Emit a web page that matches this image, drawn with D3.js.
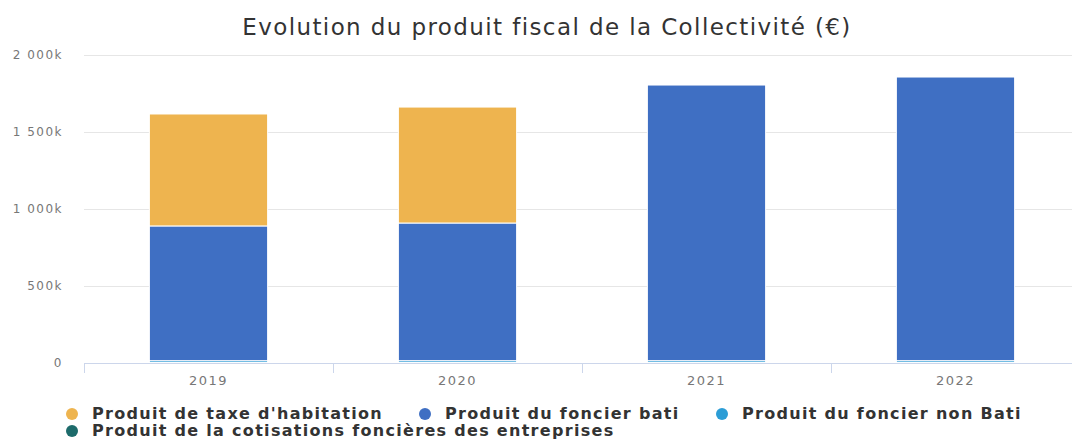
<!DOCTYPE html>
<html lang="fr">
<head>
  <meta charset="UTF-8">
  <title>Evolution du produit fiscal</title>
  <style>
    body { margin: 0; background: #fff; }
    #chart { display: block; }
    text { font-family: "DejaVu Sans", Verdana, sans-serif; }
  </style>
</head>
<body>
  <svg id="chart"></svg>

  <script src="https://d3js.org/d3.v7.min.js"></script>
  <script>
    // chart data (k€)
    const years = ["2019", "2020", "2021", "2022"];
    const seriesNames = [
      "Produit de taxe d'habitation",
      "Produit du foncier bati",
      "Produit du foncier non Bati",
      "Produit de la cotisations foncières des entreprises"
    ];
    const habitation = [727, 753, 0, 0];
    const foncierBati = [875, 894, 1790, 1842];
    const foncierNonBati = [12, 12, 12, 12];
    const cotisations = [3, 3, 3, 3];
    const yTicks = [0, 500, 1000, 1500, 2000];
    const colors = ["#eeb44f", "#3f6fc3", "#2c9dd6", "#1d6b6b"];

    const width = 1072;
    const height = 444;
    const margin = { top: 55, right: -8, bottom: 81, left: 84 };

    const svg = d3.select("#chart")
      .attr("width", width)
      .attr("height", height);

    // stacking: first series sits on top, like the original
    const rows = years.map((y, i) => ({
      year: y,
      s0: habitation[i],
      s1: foncierBati[i],
      s2: foncierNonBati[i],
      s3: cotisations[i]
    }));
    const stack = d3.stack().keys(["s3", "s2", "s1", "s0"]);
    const stacked = stack(rows);
    const colorOf = { s0: colors[0], s1: colors[1], s2: colors[2], s3: colors[3] };

    const x = d3.scaleBand()
      .domain(years)
      .range([margin.left, width - margin.right])
      .paddingInner(0.525)
      .paddingOuter(0.2625);

    const y = d3.scaleLinear()
      .domain([0, 2000])
      .range([height - margin.bottom, margin.top]);

    // title
    svg.append("text")
      .attr("x", 547)
      .attr("y", 35)
      .attr("text-anchor", "middle")
      .attr("fill", "#333")
      .style("font-size", "23px")
      .style("letter-spacing", "1.4px")
      .text("Evolution du produit fiscal de la Collectivité (€)");

    // grid lines
    svg.append("g")
      .selectAll("line")
      .data(yTicks.slice(1))
      .join("line")
      .attr("x1", margin.left)
      .attr("x2", width)
      .attr("y1", d => y(d) + 0.5)
      .attr("y2", d => y(d) + 0.5)
      .attr("stroke", "#e6e6e6");

    // y axis labels
    const fmt = d => d === 0 ? "0" : d3.format(",")(d).replace(",", " ") + "k";
    const yAxis = svg.append("g")
      .attr("transform", `translate(${margin.left - 18},0)`)
      .call(d3.axisLeft(y).tickValues(yTicks).tickFormat(fmt).tickSize(0));
    yAxis.select(".domain").remove();
    yAxis.selectAll("text")
      .attr("fill", "#777")
      .style("font-size", "12px")
      .style("letter-spacing", "1.5px");

    // bars
    svg.append("g")
      .selectAll("g")
      .data(stacked)
      .join("g")
      .attr("fill", d => colorOf[d.key])
      .selectAll("rect")
      .data(d => d.filter(v => v[1] - v[0] > 0))
      .join("rect")
      .attr("x", d => x(d.data.year))
      .attr("width", x.bandwidth())
      .attr("y", d => y(d[1]))
      .attr("height", d => y(d[0]) - y(d[1]))
      .attr("stroke", "#fff")
      .attr("stroke-width", 1);

    // x axis
    const xAxis = svg.append("g")
      .attr("transform", `translate(0,${height - margin.bottom})`);
    xAxis.append("line")
      .attr("x1", margin.left)
      .attr("x2", width)
      .attr("y1", 0.5)
      .attr("y2", 0.5)
      .attr("stroke", "#ccd6eb");
    const step = x.step();
    xAxis.selectAll(".tick-line")
      .data(d3.range(years.length + 1))
      .join("line")
      .attr("class", "tick-line")
      .attr("x1", i => margin.left + i * step + 0.5)
      .attr("x2", i => margin.left + i * step + 0.5)
      .attr("y1", 0)
      .attr("y2", 10)
      .attr("stroke", "#ccd6eb");
    xAxis.selectAll(".xlab")
      .data(years)
      .join("text")
      .attr("class", "xlab")
      .attr("x", d => x(d) + x.bandwidth() / 2)
      .attr("y", 22)
      .attr("text-anchor", "middle")
      .attr("fill", "#777")
      .style("font-size", "13px")
      .style("letter-spacing", "1.5px")
      .text(d => d);

    // legend
    const legendPos = [
      { x: 72, y: 414 },
      { x: 425, y: 414 },
      { x: 722, y: 414 },
      { x: 72, y: 431 }
    ];
    const legend = svg.append("g")
      .selectAll("g")
      .data(seriesNames)
      .join("g")
      .attr("transform", (d, i) => `translate(${legendPos[i].x},${legendPos[i].y})`);
    legend.append("circle")
      .attr("r", 6)
      .attr("fill", (d, i) => colors[i]);
    legend.append("text")
      .attr("x", 20)
      .attr("y", 5)
      .attr("fill", "#333")
      .style("font-size", "16px")
      .style("font-weight", "bold")
      .style("letter-spacing", "1.3px")
      .text(d => d);
  </script>
</body>
</html>
